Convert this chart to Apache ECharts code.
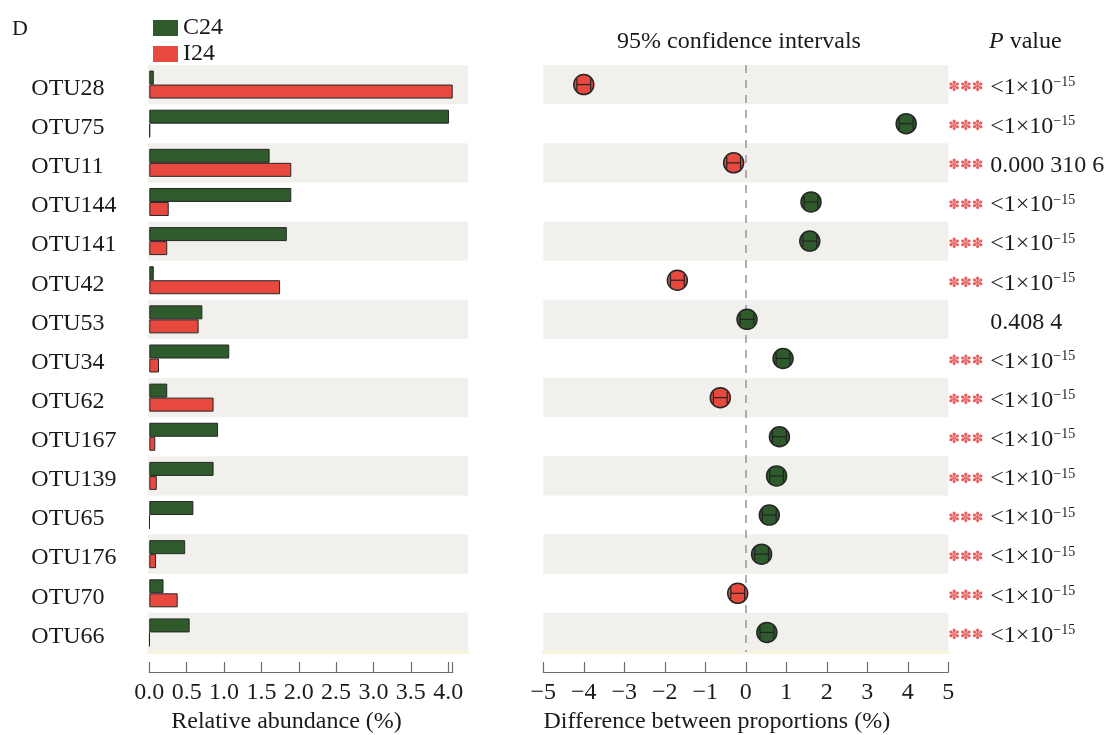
<!DOCTYPE html>
<html>
<head>
<meta charset="utf-8">
<script src="https://cdn.jsdelivr.net/npm/echarts@6/dist/echarts.min.js"></script>
<style>
  html, body { margin: 0; padding: 0; background: #fff; }
  #chart { width: 1107px; height: 735px; }
</style>
</head>
<body>
<div id="chart"></div>
<script>
// OTUs in display order (top to bottom)
const otus = ['OTU28', 'OTU75', 'OTU11', 'OTU144', 'OTU141', 'OTU42', 'OTU53', 'OTU34',
              'OTU62', 'OTU167', 'OTU139', 'OTU65', 'OTU176', 'OTU70', 'OTU66'];

// Relative abundance (%) per group
const c24 = [0.06, 4.01, 1.61, 1.90, 1.84, 0.06, 0.71, 1.07, 0.24, 0.92, 0.86, 0.59, 0.48, 0.19, 0.54];
const i24 = [4.06, 0.01, 1.90, 0.26, 0.24, 1.75, 0.66, 0.13, 0.86, 0.08, 0.10, 0.005, 0.09, 0.38, 0.005];

// Difference between proportions (%) with 95% confidence interval bounds
const diff   = [-4.00, 3.96, -0.30, 1.61, 1.58, -1.69, 0.03, 0.92, -0.63, 0.83, 0.76, 0.58, 0.39, -0.20, 0.52];
const ciLow  = [-4.17, 3.79, -0.47, 1.44, 1.41, -1.86, -0.14, 0.75, -0.80, 0.66, 0.59, 0.41, 0.22, -0.37, 0.35];
const ciHigh = [-3.83, 4.13, -0.13, 1.78, 1.75, -1.52, 0.20, 1.09, -0.46, 1.00, 0.93, 0.75, 0.56, -0.03, 0.69];

// P values (1e-15 stands for the lower reporting limit)
const pValues = [1e-15, 1e-15, 0.0003106, 1e-15, 1e-15, 1e-15, 0.4084, 1e-15,
                 1e-15, 1e-15, 1e-15, 1e-15, 1e-15, 1e-15, 1e-15];

const groupNames = ['C24', 'I24'];
const GREEN = '#2e5a2c';
const RED = '#e8493f';
const BAND = '#f2f0ed';
const FONT = '"Liberation Serif", "DejaVu Serif", serif';
const AXIS = '#6e6e6e';
const TXT = '#1a1a1a';
const FS = 24;

// Decimal digits grouped in threes: 0.0003106 -> "0.000 310 6"
function groupDecimals(p) {
  const s = String(p);
  const [ip, dp] = s.split('.');
  if (!dp) return s;
  return ip + '.' + dp.match(/.{1,3}/g).join(' ');
}

function pLabel(idx) {
  const p = pValues[idx];
  const stars = p < 0.001 ? '{s|✽✽✽}' : '{s|}';
  if (p <= 1e-15) return stars + '{v|<1×10}{sup|−15}';
  return stars + '{v|' + groupDecimals(p) + '}';
}

const minus = v => String(v).replace('-', '−');

const chart = echarts.init(document.getElementById('chart'), null, { renderer: 'canvas' });

const gridBase = { top: 65, height: 587, outerBoundsMode: 'none', containLabel: false };

// Hidden value axis whose line draws the pale rule under the banded area
const bandXAxis = gi => ({
  gridIndex: gi, type: 'value', min: 0, max: 1,
  axisLine: { show: true, lineStyle: { color: '#f8f4dc', width: 3 } },
  axisTick: { show: false }, axisLabel: { show: false }, splitLine: { show: false }
});
const bandYAxis = gi => ({
  gridIndex: gi, type: 'category', data: otus, inverse: true,
  axisLine: { show: false }, axisTick: { show: false }, axisLabel: { show: false },
  splitArea: { show: true, areaStyle: { color: [BAND, 'rgba(255,255,255,0)'] } }
});

const option = {
  backgroundColor: '#ffffff',
  animation: false,
  textStyle: { fontFamily: FONT, color: TXT },
  title: [
    { text: 'D', left: 7, top: 13, textStyle: { fontFamily: FONT, fontSize: 22, fontWeight: 'normal', color: TXT } },
    { text: '95% confidence intervals', left: 612, top: 25,
      textStyle: { fontFamily: FONT, fontSize: FS, fontWeight: 'normal', color: TXT } },
    { text: '{i|P} value', left: 984, top: 25,
      textStyle: { fontFamily: FONT, fontSize: FS, fontWeight: 'normal', color: TXT,
        rich: { i: { fontFamily: FONT, fontSize: FS, fontStyle: 'italic', color: TXT } } } }
  ],
  legend: {
    data: groupNames,
    orient: 'vertical',
    left: 148,
    top: 11,
    itemWidth: 25,
    itemHeight: 16,
    itemGap: 2,
    icon: 'rect',
    itemStyle: { borderWidth: 0 },
    textStyle: { fontFamily: FONT, fontSize: FS, color: TXT, lineHeight: 23 }
  },
  grid: [
    Object.assign({ left: 148, width: 320 }, gridBase),      // bands behind the abundance bars
    Object.assign({ left: 149.3, width: 303.4 }, gridBase),  // abundance bars
    Object.assign({ left: 543.3, width: 405 }, gridBase),    // difference panel
    Object.assign({ left: 543.3, width: 405 }, gridBase)     // bands behind the difference panel
  ],
  xAxis: [
    bandXAxis(0),
    {
      gridIndex: 1, type: 'value', min: 0, max: 4.06, interval: 0.5, offset: 20,
      name: 'Relative abundance (%)', nameLocation: 'middle', nameGap: 37,
      nameTextStyle: { fontFamily: FONT, fontSize: FS, color: TXT, padding: [0, 29, 0, 0] },
      axisLine: { show: true, lineStyle: { color: AXIS, width: 1.2 } },
      axisTick: { show: true, inside: true, length: 10, lineStyle: { color: AXIS, width: 1.2 } },
      axisLabel: {
        margin: 9, fontFamily: FONT, fontSize: FS, color: TXT,
        formatter: v => (Math.abs(v * 2 - Math.round(v * 2)) < 1e-6 ? v.toFixed(1) : '')
      },
      splitLine: { show: false }
    },
    {
      gridIndex: 2, type: 'value', min: -5, max: 5, interval: 1, offset: 20,
      name: 'Difference between proportions (%)', nameLocation: 'middle', nameGap: 37,
      nameTextStyle: { fontFamily: FONT, fontSize: FS, color: TXT, padding: [0, 58, 0, 0] },
      axisLine: { show: true, lineStyle: { color: AXIS, width: 1.2 } },
      axisTick: { show: true, inside: true, length: 10, lineStyle: { color: AXIS, width: 1.2 } },
      axisLabel: { margin: 9, fontFamily: FONT, fontSize: FS, color: TXT, formatter: minus },
      splitLine: { show: false }
    },
    bandXAxis(3)
  ],
  yAxis: [
    bandYAxis(0),
    {
      gridIndex: 1, type: 'category', data: otus, inverse: true,
      axisLine: { show: false }, axisTick: { show: false },
      axisLabel: { align: 'left', verticalAlign: 'top', lineHeight: 8, margin: 118,
                   fontFamily: FONT, fontSize: FS, color: TXT },
      splitLine: { show: false }
    },
    {
      gridIndex: 2, type: 'category', data: otus, inverse: true, position: 'right',
      axisLine: { show: false }, axisTick: { show: false },
      axisLabel: {
        margin: 0, align: 'left', padding: [6, 0, 0, 0],
        formatter: (v, idx) => pLabel(idx),
        rich: {
          s: { width: 42, fontFamily: '"DejaVu Sans", sans-serif', fontSize: 14, color: '#e95c5c' },
          v: { fontFamily: FONT, fontSize: FS, color: TXT },
          sup: { fontFamily: FONT, fontSize: 14, color: TXT, verticalAlign: 'top', padding: [0, 0, 10, 0] }
        }
      }
    },
    bandYAxis(3)
  ],
  series: [
    {
      name: groupNames[0], type: 'bar', xAxisIndex: 1, yAxisIndex: 1, data: c24,
      barWidth: 14, barGap: '0%',
      itemStyle: { color: GREEN, borderColor: '#262626', borderWidth: 1 }
    },
    {
      name: groupNames[1], type: 'bar', xAxisIndex: 1, yAxisIndex: 1, data: i24,
      barWidth: 14, barGap: '0%',
      itemStyle: { color: RED, borderColor: '#262626', borderWidth: 1 }
    },
    {
      type: 'scatter', xAxisIndex: 2, yAxisIndex: 2, z: 3,
      data: diff.map((d, i) => [d, i]),
      symbolSize: 20,
      itemStyle: {
        color: p => (p.value[0] >= 0 ? GREEN : RED),
        borderColor: '#262626', borderWidth: 1.5, opacity: 1
      },
      markLine: {
        silent: true, symbol: 'none', z: 1,
        label: { show: false },
        lineStyle: { type: [8, 7], color: '#9d9d9d', width: 1.6 },
        data: [{ xAxis: 0 }]
      }
    },
    {
      type: 'custom', xAxisIndex: 2, yAxisIndex: 2, z: 4,
      data: ciLow.map((lo, i) => [lo, ciHigh[i], i]),
      encode: { x: [0, 1], y: 2 },
      renderItem: (params, api) => {
        const a = api.coord([api.value(0), api.value(2)]);
        const b = api.coord([api.value(1), api.value(2)]);
        const h = 6;
        const style = { stroke: '#222', lineWidth: 1.2 };
        return {
          type: 'group',
          children: [
            { type: 'line', shape: { x1: a[0], y1: a[1], x2: b[0], y2: b[1] }, style },
            { type: 'line', shape: { x1: a[0], y1: a[1] - h, x2: a[0], y2: a[1] + h }, style },
            { type: 'line', shape: { x1: b[0], y1: b[1] - h, x2: b[0], y2: b[1] + h }, style }
          ]
        };
      }
    }
  ]
};

chart.setOption(option);
</script>
</body>
</html>
